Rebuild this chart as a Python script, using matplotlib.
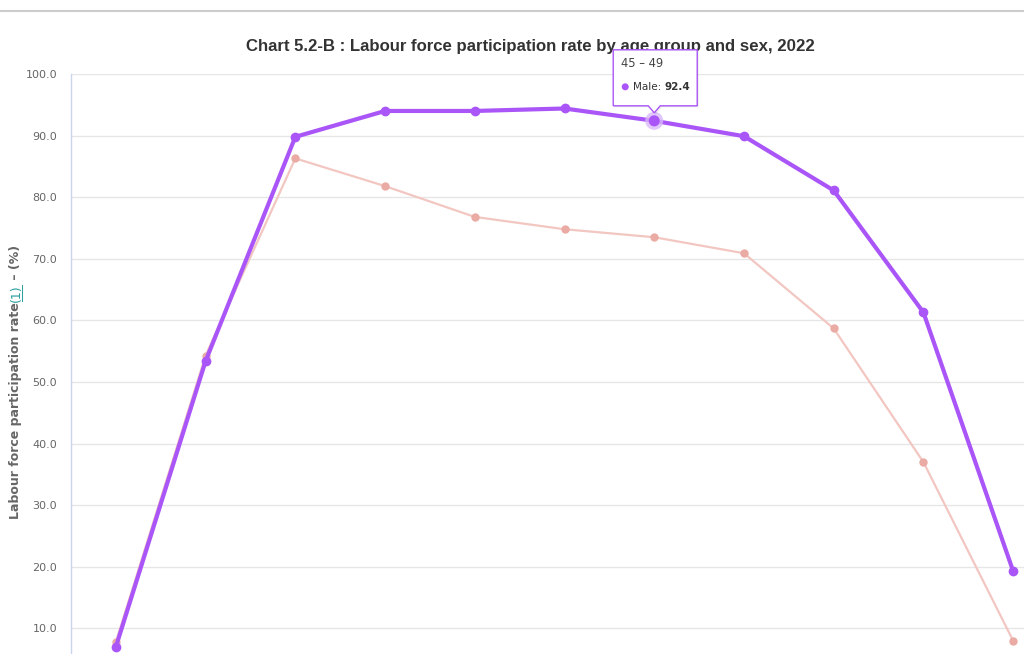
import matplotlib
matplotlib.use("Agg")
import matplotlib.pyplot as plt
from matplotlib.lines import Line2D
from matplotlib.patches import Polygon, Circle
from matplotlib.transforms import IdentityTransform

categories = ["15 – 19", "20 – 24", "25 – 29", "30 – 34", "35 – 39", "40 – 44",
              "45 – 49", "50 – 54", "55 – 59", "60 – 64", "65+"]
male = [7.0, 53.4, 89.8, 94.0, 94.0, 94.4, 92.4, 89.9, 81.1, 61.3, 19.3]
female = [7.8, 54.3, 86.3, 81.8, 76.8, 74.8, 73.5, 70.9, 58.7, 37.0, 8.0]
yticks = [10, 20, 30, 40, 50, 60, 70, 80, 90, 100]
title = "Chart 5.2-B : Labour force participation rate by age group and sex, 2022"
hover_index = 6

W, H = 1024, 654
fig = plt.figure(figsize=(W / 100, H / 100), dpi=100)
fig.patch.set_facecolor("white")

# axes: x from 71px to 1058px, y: 100 at 74px, 0 at 690px (image coords)
left, right = 71 / W, 1058 / W
top, bottom = 1 - 74 / H, 1 - 690 / H
ax = fig.add_axes([left, bottom, right - left, top - bottom])
ax.set_xlim(-0.5, len(categories) - 0.5)
ax.set_ylim(0, 100)
ax.set_facecolor("white")
for s in ["top", "right", "bottom"]:
    ax.spines[s].set_visible(False)
ax.spines["left"].set_color("#ccd6eb")
ax.spines["left"].set_linewidth(1)
ax.set_yticks(yticks)
ax.set_yticklabels([f"{v:.1f}" for v in yticks], color="#666666", fontsize=8)
ax.tick_params(axis="y", length=0, pad=10)
ax.set_xticks([])
ax.grid(axis="y", color="#e6e6e6", linewidth=1)
ax.set_axisbelow(True)

x = list(range(len(categories)))
ax.plot(x, female, color="#f2c6c1", linewidth=1.6, zorder=3, clip_on=False)
ax.plot(x, female, linestyle="none", marker="o", markersize=5,
        color="#eaaba4", zorder=3, clip_on=False)
ax.plot(x, male, color="#aa55f7", linewidth=3, zorder=4, clip_on=False,
        solid_joinstyle="round")
ax.plot(x, male, linestyle="none", marker="o", markersize=6,
        color="#aa55f7", zorder=4, clip_on=False)

# hover halo + marker
hx, hy = ax.transData.transform((hover_index, male[hover_index]))
ax.add_patch(Circle((hx, hy), 9, transform=IdentityTransform(),
                    facecolor="#d9b8fb", alpha=0.8, edgecolor="none", zorder=5))
ax.add_patch(Circle((hx, hy), 5.5, transform=IdentityTransform(),
                    facecolor="#aa55f7", edgecolor="none", zorder=6))

# title
fig.text(530 / W, 1 - 47 / H, title, ha="center", va="center",
         fontsize=12.1, fontweight="bold", color="#333333",
         family="Liberation Sans")

# top separator line
fig.add_artist(Line2D([0, 1], [1 - 11 / H, 1 - 11 / H], transform=fig.transFigure,
                      color="#cccccc", linewidth=1.5))

# y-axis title in pieces
fig.canvas.draw()
renderer = fig.canvas.get_renderer()
ycenter = 1 - 382 / H
xlab = 16 / W
parts = [("Labour force participation rate", "#666666", "bold", False),
         ("(1)", "#2a9d9d", "normal", True),
         (" – (%)", "#666666", "bold", False)]
texts = []
for s, c, w, u in parts:
    t = fig.text(xlab, 0, s, rotation=90, color=c, fontweight=w, fontsize=9,
                 ha="center", va="bottom", family="DejaVu Sans")
    texts.append(t)
heights = [t.get_window_extent(renderer).height for t in texts]
total = sum(heights)
ycur = ycenter * H - total / 2
for t, h, (s, c, w, u) in zip(texts, heights, parts):
    t.set_position((xlab, ycur / H))
    if u:
        fig.add_artist(Line2D([xlab + 5.5 / W, xlab + 5.5 / W],
                              [(ycur + 1) / H, (ycur + h - 1) / H],
                              transform=fig.transFigure, color=c, linewidth=0.7))
    ycur += h

# tooltip (display pixel coords, y up)
bl, br = hx - 41, hx + 43
bt, bb = hy + 71, hy + 15
tip = hy + 8
shadow = Polygon([(bl + 1.5, bb - 1.5), (hx - 6 + 1.5, bb - 1.5), (hx + 1.5, tip - 1.5),
                  (hx + 6 + 1.5, bb - 1.5), (br + 1.5, bb - 1.5), (br + 1.5, bt - 1.5),
                  (bl + 1.5, bt - 1.5)], closed=True, transform=IdentityTransform(),
                 facecolor="#000000", alpha=0.08, edgecolor="none", zorder=9)
fig.add_artist(shadow)
box = Polygon([(bl, bb), (hx - 6, bb), (hx, tip), (hx + 6, bb), (br, bb), (br, bt),
               (bl, bt)], closed=True, transform=IdentityTransform(),
              facecolor="white", edgecolor="#aa55f7", linewidth=1, zorder=10)
fig.add_artist(box)
fig.text((bl + 8) / W, (hy + 57) / H, categories[hover_index], fontsize=8.3,
         color="#444444", va="center", ha="left", zorder=11)
fig.add_artist(Circle((bl + 12, hy + 34), 3.5, transform=IdentityTransform(),
                      facecolor="#aa55f7", edgecolor="none", zorder=11))
t1 = fig.text((bl + 20) / W, (hy + 34) / H, "Male: ", fontsize=7.5, color="#333333",
              va="center", ha="left", zorder=11)
fig.canvas.draw()
e = t1.get_window_extent(renderer)
fig.text(e.x1 / W, (hy + 34) / H, f"{male[hover_index]:.1f}", fontsize=7.5,
         color="#333333", fontweight="bold", va="center", ha="left", zorder=11)

fig.savefig("out.png", dpi=100)
